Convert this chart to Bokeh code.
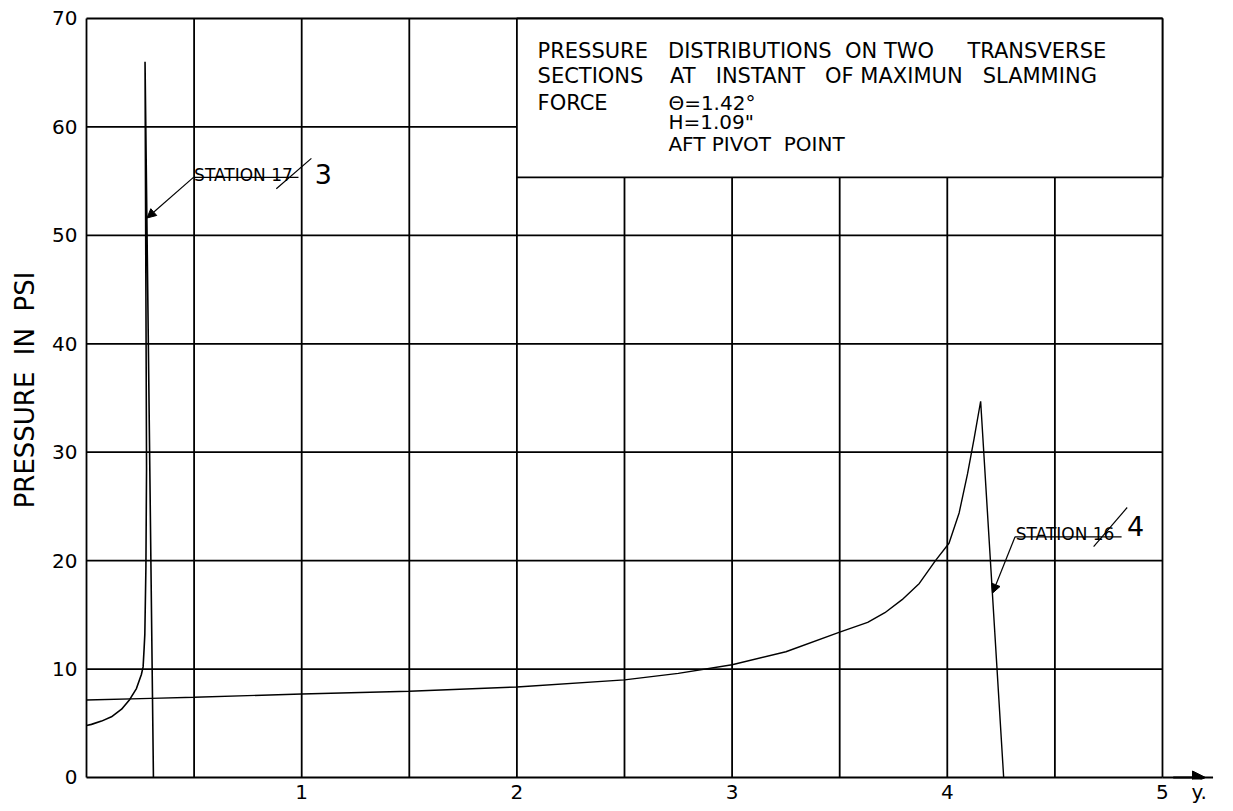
from bokeh.core.properties import value
from bokeh.embed import file_html
from bokeh.models import Arrow, FixedTicker, NormalHead, Range1d
from bokeh.plotting import figure
from bokeh.resources import INLINE

# Axis ticks and grid lines
x_ticks = [1, 2, 3, 4, 5]
x_name_pos = 5.17
y_ticks = [0, 10, 20, 30, 40, 50, 60, 70]
grid_x = [0, 0.5, 1, 1.5, 2, 2.5, 3, 3.5, 4, 4.5, 5]
grid_y = [0, 10, 20, 30, 40, 50, 60, 70]

# Station 17 (3): pressure in psi against y
st17_y = [0.0, 0.023, 0.07, 0.116, 0.163, 0.201, 0.232, 0.255, 0.263, 0.268,
          0.271, 0.276, 0.279, 0.276, 0.272, 0.311]
st17_p = [4.8, 4.9, 5.2, 5.6, 6.3, 7.2, 8.2, 9.5, 10.2, 12.0,
          13.2, 19.3, 28.5, 45.0, 66.0, 0.0]

# Station 16 (4): pressure in psi against y
st16_y = [0.0, 0.3, 0.5, 1.0, 1.5, 2.0, 2.5, 2.75, 3.0, 3.25, 3.5, 3.63, 3.71,
          3.79, 3.87, 3.945, 4.008, 4.055, 4.094, 4.125, 4.155, 4.262]
st16_p = [7.15, 7.3, 7.4, 7.7, 7.95, 8.35, 9.0, 9.6, 10.4, 11.6, 13.4, 14.3, 15.2,
          16.4, 17.9, 20.0, 21.6, 24.4, 28.0, 31.3, 34.7, 0.0]

FONT = "DejaVu Sans"
NB = "\u00a0"

p = figure(
    width=1233, height=811,
    x_range=Range1d(-0.0279, 5.330), y_range=Range1d(-0.185, 71.66),
    output_backend="svg", toolbar_location=None,
    min_border_left=80, min_border_right=0, min_border_top=0, min_border_bottom=32,
)
p.outline_line_color = None
p.background_fill_color = "white"
p.border_fill_color = "white"
p.grid.visible = False

for ax, ticks, standoff in ((p.xaxis, x_ticks + [x_name_pos], 0), (p.yaxis, y_ticks, 3)):
    ax.ticker = FixedTicker(ticks=ticks)
    ax.axis_line_color = None
    ax.major_tick_line_color = None
    ax.minor_tick_line_color = None
    ax.major_tick_out = 0
    ax.major_label_text_font = FONT
    ax.major_label_text_font_size = "20px"
    ax.major_label_text_color = "black"
    ax.major_label_standoff = standoff

p.xaxis.major_label_overrides = {x_name_pos: "y."}

p.yaxis.axis_label = "PRESSURE" + NB * 2 + "IN" + NB * 2 + "PSI"
p.yaxis.axis_label_text_font = FONT
p.yaxis.axis_label_text_font_style = "normal"
p.yaxis.axis_label_text_font_size = "26px"
p.yaxis.axis_label_text_color = "black"
p.yaxis.axis_label_standoff = 9

# Grid
p.segment(x0=[grid_x[0]] * len(grid_y), y0=grid_y, x1=[grid_x[-1]] * len(grid_y), y1=grid_y,
          line_color="black", line_width=1.8)
p.segment(x0=grid_x, y0=[grid_y[0]] * len(grid_x), x1=grid_x, y1=[grid_y[-1]] * len(grid_x),
          line_color="black", line_width=1.8)

# y axis continues past 5 with an arrow
p.segment(x0=[5.0], y0=[0], x1=[5.235], y1=[0], line_color="black", line_width=1.8)
p.add_layout(Arrow(end=NormalHead(size=13, fill_color="black", line_color="black"),
                   x_start=5.05, y_start=0, x_end=5.2, y_end=0,
                   line_color="black", line_width=1.8))

# Title box
p.quad(left=[2.0], right=[5.0], bottom=[55.35], top=[70.0],
       fill_color="white", line_color="black", line_width=1.8)

# Pressure curves
p.line(st17_y, st17_p, line_color="black", line_width=1.6)
p.line(st16_y, st16_p, line_color="black", line_width=1.4)

# Title text
p.text(x=[2.096, 2.096, 2.096], y=[66.97, 64.67, 62.18],
       text=["PRESSURE" + NB * 2 + " DISTRIBUTIONS" + NB + " ON TWO" + NB * 4 + " TRANSVERSE",
             "SECTIONS" + NB * 3 + " AT" + NB * 2 + " INSTANT" + NB * 2 + " OF MAXIMUN"
             + NB * 2 + " SLAMMING",
             "FORCE"],
       text_font=value(FONT), text_font_size="21px", text_color="black",
       text_align="left", text_baseline="middle")
p.text(x=[2.704, 2.704, 2.704], y=[62.2, 60.42, 58.39],
       text=["\u0398=1.42\u00b0", "H=1.09\"", "AFT PIVOT" + NB + " POINT"],
       text_font=value(FONT), text_font_size="20px", text_color="black",
       text_align="left", text_baseline="middle")

# Station callouts
p.text(x=[0.50, 4.318], y=[55.6, 22.45], text=["STATION 17", "STATION 16"],
       text_font=value(FONT), text_font_size="17px", text_color="black",
       text_align="left", text_baseline="alphabetic")
p.segment(x0=[0.497, 4.315], y0=[55.35, 22.2], x1=[0.985, 4.81], y1=[55.35, 22.2],
          line_color="black", line_width=1.3)
p.segment(x0=[0.882, 4.68], y0=[54.3, 21.3], x1=[1.045, 4.836], y1=[57.1, 24.9],
          line_color="black", line_width=1.2)
p.text(x=[1.10, 4.875], y=[55.7, 23.2], text=["3", "4"],
       text_font=value(FONT), text_font_size="27px", text_color="black",
       text_align="center", text_baseline="middle")
for xs, ys, xe, ye in ((0.497, 55.35, 0.281, 51.6), (4.315, 22.2, 4.21, 17.0)):
    p.add_layout(Arrow(end=NormalHead(size=9, fill_color="black", line_color="black"),
                       x_start=xs, y_start=ys, x_end=xe, y_end=ye,
                       line_color="black", line_width=1.2))

open("out.html", "w").write(file_html(p, INLINE))
